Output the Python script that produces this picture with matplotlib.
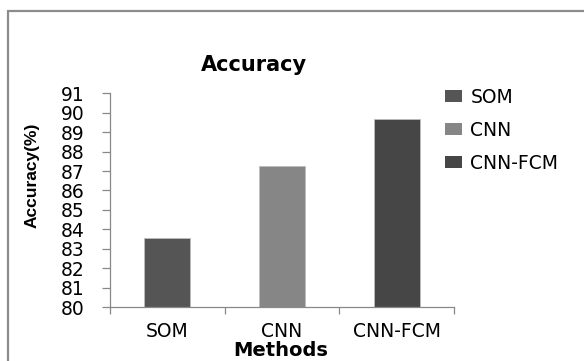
import matplotlib
matplotlib.use('Agg')
import matplotlib.pyplot as plt
from matplotlib.patches import Rectangle, Patch

methods = ['SOM', 'CNN', 'CNN-FCM']
accuracy = [83.57, 87.26, 89.67]
colors = ['#555555', '#868686', '#464646']
yticks = list(range(80, 92))

plt.rcParams['font.family'] = ['DejaVu Sans']

fig = plt.figure(figsize=(5.84, 3.61), dpi=100)
W, H = 584, 361

# grey chart border (runs off the right and bottom edges)
fig.patches.append(Rectangle((8 / W, -0.05), 1.2, 1.05 - 11 / H, transform=fig.transFigure,
                             fill=False, edgecolor='#8c8c8c', linewidth=1.6, zorder=0))

ax = fig.add_axes([110 / W, 54 / H, 344 / W, 213.7 / H])
x = range(len(methods))
ax.bar(x, accuracy, width=0.4, color=colors, edgecolor='#bdbdbd', linewidth=0.6, zorder=2)

ax.set_xlim(-0.5, 2.5)
ax.set_ylim(80, 91)
ax.set_yticks(yticks)
ax.set_yticklabels([str(t) for t in yticks], fontsize=13.5)
ax.set_xticks(list(x))
ax.set_xticklabels(methods, fontsize=13.5)
ax.set_xticks([-0.5, 0.5, 1.5, 2.5], minor=True)
ax.tick_params(axis='x', which='major', length=0, pad=11)
ax.tick_params(axis='x', which='minor', length=5, color='#888888', width=0.9)
ax.tick_params(axis='y', length=6, color='#888888', width=0.9, pad=12)
for s in ['top', 'right']:
    ax.spines[s].set_visible(False)
for s in ['left', 'bottom']:
    ax.spines[s].set_color('#888888')
    ax.spines[s].set_linewidth(0.9)

fig.text(254 / W, 1 - 65 / H, 'Accuracy', fontsize=15, fontweight='bold', ha='center', va='center')
fig.text(32 / W, 1 - 175 / H, 'Accuracy(%)', rotation=90, fontsize=12.5, fontweight='bold',
         family=['Liberation Sans', 'DejaVu Sans'], ha='center', va='center')
fig.text(281 / W, 1.5 / H, 'Methods', fontsize=14, fontweight='bold', ha='center', va='bottom')

handles = [Patch(facecolor=c, edgecolor='none') for c in colors]
fig.legend(handles, methods, loc='upper left', bbox_to_anchor=(445 / W, 1 - 88 / H),
           frameon=False, fontsize=13.5, handlelength=0.9, handleheight=0.6,
           handletextpad=0.45, labelspacing=0.74, borderpad=0, borderaxespad=0)

fig.savefig('out.png', dpi=100)
